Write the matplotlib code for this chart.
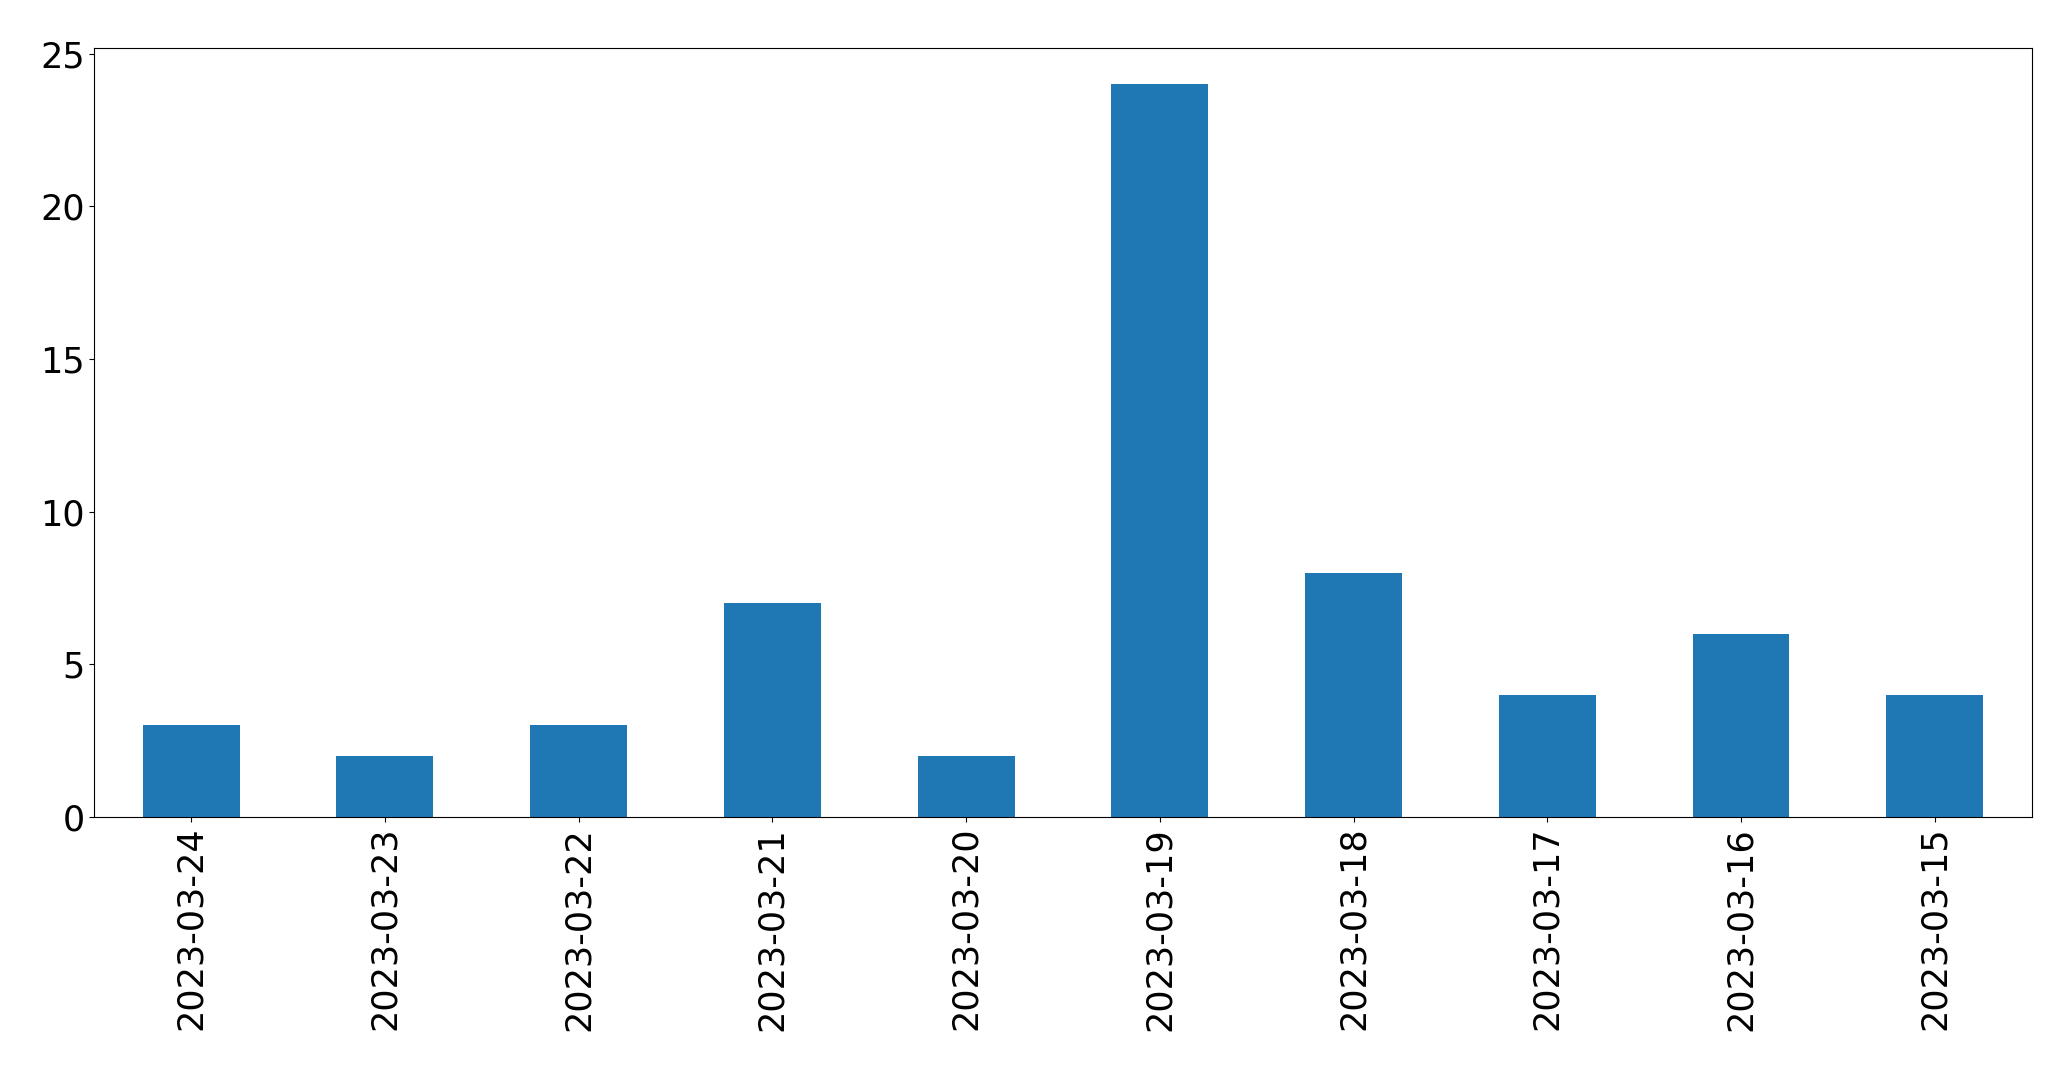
import matplotlib
matplotlib.use("Agg")
import matplotlib.pyplot as plt
import numpy as np

dates = ["2023-03-24", "2023-03-23", "2023-03-22", "2023-03-21", "2023-03-20",
         "2023-03-19", "2023-03-18", "2023-03-17", "2023-03-16", "2023-03-15"]
counts = [3, 2, 3, 7, 2, 24, 8, 4, 6, 4]

fig = plt.figure(figsize=(20.71, 10.69), dpi=100)
ax = fig.add_axes([0.0455, 0.2357, 0.9355, 0.7197])
x = np.arange(len(dates))
ax.bar(x, counts, width=0.5, color="#1f77b4")
ax.set_xlim(-0.5, len(dates) - 0.5)
ax.set_ylim(0, max(counts) * 1.05)
ax.set_xticks(x)
ax.set_xticklabels(dates, rotation=90)
ax.set_yticks([0, 5, 10, 15, 20, 25])
ax.tick_params(labelsize=25.2)
fig.savefig("out.png", dpi=100)
